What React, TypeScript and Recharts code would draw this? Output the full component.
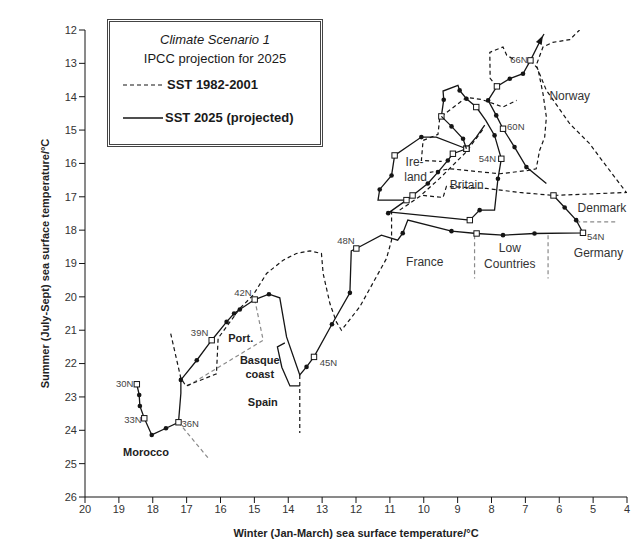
import { ScatterChart, Scatter, XAxis, YAxis, Label } from "recharts";

// point = [winter SST, summer SST, marker]  marker: d = dot, s = open square, a = arrow
type Raw = [number, number, string?];

// ---- SST 2025 (projected), solid ----
const iberiaToDenmark: Raw[] = [
    [18.47, 22.62, "s"], [18.4, 22.94, "d"], [18.38, 23.27, "d"], [18.25, 23.64, "s"],
    [18.03, 24.14, "d"], [17.61, 23.94, "d"], [17.24, 23.76, "s"], [17.17, 22.89],
    [17.17, 22.49, "d"], [16.7, 21.9, "d"], [16.26, 21.3, "s"], [15.82, 20.75, "d"],
    [15.6, 20.5, "d"], [15.43, 20.38, "d"], [14.99, 20.08, "s"], [14.57, 19.92, "d"],
    [14.25, 20.03], [14.05, 21.2], [13.66, 22.34], [13.46, 22.1, "d"], [13.24, 21.8, "s"],
    [12.71, 20.82, "d"], [12.18, 19.88, "d"], [12.14, 18.62], [11.99, 18.55, "s"],
    [11.25, 18.15], [10.77, 18.3], [10.62, 18.09, "d"], [10.47, 17.7], [9.18, 18.03, "d"],
    [8.44, 18.1, "s"], [7.66, 18.15, "d"], [6.73, 18.1, "d"], [5.3, 18.08, "s"],
    [5.5, 17.7, "d"], [5.84, 17.32, "d"], [6.17, 16.96, "s"],
];
const basqueBracket: Raw[] = [[14.1, 21.38], [14.32, 21.5], [14.19, 22.11], [13.95, 22.67], [13.66, 22.67]];
const irelandLoop: Raw[] = [
    [10.51, 17.1], [11.35, 17.1], [11.3, 16.78, "d"], [10.95, 16.36, "d"], [10.86, 15.76, "s"],
    [10.07, 15.21, "d"], [9.63, 15.21], [8.74, 15.56, "s"],
];
const irishSea: Raw[] = [
    [11.05, 17.49, "d"], [10.51, 17.1, "s"], [10.33, 16.96, "s"], [9.88, 16.6, "d"],
    [9.58, 16.26, "d"], [9.29, 15.91, "d"], [9.14, 15.71, "s"], [8.74, 15.56, "s"], [8.45, 15.21],
    [8.2, 14.85],
];
const southBritain: Raw[] = [[11.05, 17.45], [8.64, 17.7]];
const britainEast: Raw[] = [
    [9.48, 14.59, "s"], [9.41, 14.09, "d"], [9.43, 13.83], [8.99, 13.66], [8.94, 13.81, "d"],
    [8.74, 14.06, "d"], [8.45, 14.31, "s"], [8.17, 14.71], [7.91, 15.16, "d"], [7.71, 15.86, "s"],
    [7.81, 16.46, "d"], [7.91, 17.4], [8.35, 17.4, "d"], [8.64, 17.7, "s"],
];
const scotlandWest: Raw[] = [[9.48, 14.59], [9.18, 14.89, "d"], [8.84, 15.26, "d"], [8.74, 15.56]];
const norwayCoast: Raw[] = [
    [6.38, 16.6], [6.97, 16.11, "d"], [7.32, 15.51, "d"], [7.66, 14.96, "s"], [7.86, 14.56, "d"],
    [8.1, 14.11, "d"], [7.84, 13.69, "s"], [7.46, 13.46, "d"], [7.07, 13.31, "d"],
    [6.85, 12.91, "s"], [6.55, 12.3, "a"], [6.45, 12.12],
];

// ---- SST 1982-2001, dashed ----
const iberiaFrance1982: Raw[] = [
    [17.47, 21.1], [17.17, 22.44], [17.02, 22.67], [16.12, 22.31], [16.07, 21.24], [15.43, 20.35],
    [15.04, 19.95], [14.64, 19.3], [14.15, 18.9], [13.76, 18.7], [13.36, 18.62], [13.02, 18.7],
    [12.97, 19.3], [12.77, 20.2], [12.58, 20.75], [12.43, 21.0], [11.89, 20.3], [11.1, 18.85],
    [10.95, 18.3], [10.95, 17.4],
];
const spainInland: Raw[] = [[13.66, 22.34], [13.66, 24.08]];
const britainNorway1982: Raw[] = [
    [10.02, 16.96], [9.43, 17.02], [9.33, 16.69], [8.15, 16.75], [7.17, 16.87], [6.16, 16.96],
    [4.02, 16.87], [4.81, 15.81], [5.1, 15.41], [5.69, 14.81], [6.38, 13.81], [6.68, 13.06],
    [6.48, 12.51], [6.19, 12.37], [5.69, 12.29], [5.4, 12.0],
];
const norwayInner1982: Raw[] = [
    [6.85, 12.91], [6.63, 13.16], [6.48, 13.91], [6.38, 14.61], [6.43, 15.21], [6.58, 15.61],
    [6.68, 16.16], [6.92, 16.21], [7.76, 16.31], [9.23, 16.16], [9.82, 16.27],
];
const norwayWest1982: Raw[] = [[7.84, 13.69], [8.04, 13.45], [8.05, 12.67], [7.66, 12.51], [7.55, 12.76], [7.29, 12.91]];
const scotland1982: Raw[] = [[9.48, 14.59], [8.74, 14.02], [8.3, 14.08], [7.66, 14.31], [7.26, 14.11]];
const ireland1982: Raw[] = [[9.53, 14.65], [9.58, 15.13], [10.02, 15.31], [10.07, 15.91], [9.47, 15.94]];
const irishSea1982: Raw[] = [[10.71, 17.4], [10.12, 16.99], [9.53, 16.45], [8.76, 15.67], [8.23, 14.95]];

// ---- grey boundary marks ----
const portugalBorder: Raw[] = [[14.99, 20.08], [14.74, 21.3], [17.0, 22.69]];
const moroccoBorder: Raw[] = [[17.24, 23.76], [16.35, 24.85]];
const lowCountriesWest: Raw[] = [[8.5, 18.15], [8.5, 19.45]];
const lowCountriesEast: Raw[] = [[6.33, 18.15], [6.33, 19.45]];
const denmarkBorder: Raw[] = [[5.5, 17.75], [4.32, 17.75]];

// ---- text ----
const latitudeLabels: [number, number, string, string][] = [
    [18.57, 22.61, "30N", "end"], [18.33, 23.69, "33N", "end"], [17.15, 23.79, "36N", "start"],
    [16.36, 21.08, "39N", "end"], [15.08, 19.88, "42N", "end"], [13.07, 21.98, "45N", "start"],
    [12.04, 18.3, "48N", "end"], [7.86, 15.86, "54N", "end"], [5.18, 18.2, "54N", "start"],
    [7.54, 14.9, "60N", "start"], [6.93, 12.89, "66N", "end"],
];
const southLabels: [number, number, string][] = [
    [18.2, 24.65, "Morocco"], [14.75, 23.15, "Spain"], [15.4, 21.24, "Port."],
    [14.84, 21.9, "Basque"], [14.84, 22.31, "coast"],
];
const northLabels: [number, number, string][] = [
    [9.97, 18.96, "France"], [7.46, 18.54, "Low"], [7.46, 19.02, "Countries"],
    [4.84, 18.69, "Germany"], [4.74, 17.34, "Denmark"], [5.69, 13.99, "Norway"],
    [10.27, 15.96, "Ire-"], [10.24, 16.41, "land"], [8.73, 16.66, "Britain"],
];
const xTicks = [20, 19, 18, 17, 16, 15, 14, 13, 12, 11, 10, 9, 8, 7, 6, 5, 4];
const yTicks = [12, 13, 14, 15, 16, 17, 18, 19, 20, 21, 22, 23, 24, 25, 26];

const toPts = (raw: Raw[]) => raw.map(([x, y, m]) => ({ x, y, m: m || "" }));

const INK = "#151515";

const Marker = (props: any) => {
    const { cx, cy, payload } = props;
    if (cx == null || cy == null) return <g />;
    if (payload.m === "d") return <circle cx={cx} cy={cy} r={2.3} fill={INK} />;
    if (payload.m === "s")
        return <rect x={cx - 2.7} y={cy - 2.7} width={5.4} height={5.4} fill="#fff" stroke={INK} strokeWidth={1} />;
    if (payload.m === "a")
        return <polygon points="5,0 -4,-3.2 -4,3.2" fill={INK} transform={`translate(${cx},${cy}) rotate(-63)`} />;
    return <g />;
};

const LatText = (props: any) => {
    const { cx, cy, payload } = props;
    return (
        <text x={cx} y={cy} textAnchor={payload.anchor} dominantBaseline="central" fontSize={9.5} fill="#444">
            {payload.text}
        </text>
    );
};

const BoldText = (props: any) => {
    const { cx, cy, payload } = props;
    return (
        <text x={cx} y={cy} textAnchor="middle" dominantBaseline="central" fontSize={11} fontWeight="bold" fill="#222">
            {payload.text}
        </text>
    );
};

const PlainText = (props: any) => {
    const { cx, cy, payload } = props;
    return (
        <text x={cx} y={cy} textAnchor="middle" dominantBaseline="central" fontSize={12} fill="#333">
            {payload.text}
        </text>
    );
};

const solidLine = { stroke: INK, strokeWidth: 1.3 };
const dashLine = { stroke: INK, strokeWidth: 1.2, strokeDasharray: "4 3" };
const greyLine = { stroke: "#8a8a8a", strokeWidth: 1.2, strokeDasharray: "4 3" };

export default function App() {
    const solid = [iberiaToDenmark, basqueBracket, irelandLoop, irishSea, southBritain, britainEast, scotlandWest, norwayCoast];
    const dashed = [iberiaFrance1982, spainInland, britainNorway1982, norwayInner1982, norwayWest1982, scotland1982, ireland1982, irishSea1982];
    const grey = [portugalBorder, moroccoBorder, lowCountriesWest, lowCountriesEast, denmarkBorder];

    return (
        <div style={{ position: "absolute", left: 0, top: 0, width: 635, height: 545, background: "#fff", fontFamily: "'Liberation Sans', Arial, sans-serif" }}>
            <ScatterChart width={635} height={545} margin={{ top: 30, right: 8, bottom: 0, left: 0 }}>
                <XAxis
                    type="number"
                    dataKey="x"
                    domain={[4, 20]}
                    reversed
                    allowDataOverflow
                    ticks={xTicks}
                    interval={0}
                    height={48}
                    tickSize={6}
                    axisLine={{ stroke: INK }}
                    tickLine={{ stroke: INK }}
                    tick={{ fontSize: 11, fill: "#333" }}
                >
                    <Label
                        value="Winter (Jan-March) sea surface temperature/°C"
                        position="insideBottom"
                        offset={8}
                        style={{ fontSize: 11, fontWeight: "bold", fill: "#222" }}
                    />
                </XAxis>
                <YAxis
                    type="number"
                    dataKey="y"
                    domain={[12, 26]}
                    reversed
                    allowDataOverflow
                    ticks={yTicks}
                    interval={0}
                    width={85}
                    tickSize={6}
                    axisLine={{ stroke: INK }}
                    tickLine={{ stroke: INK }}
                    tick={{ fontSize: 11, fill: "#333" }}
                >
                    <Label
                        value="Summer (July-Sept) sea surface temperature/°C"
                        angle={-90}
                        position="insideLeft"
                        offset={45}
                        style={{ fontSize: 11, fontWeight: "bold", fill: "#222", textAnchor: "middle" }}
                    />
                </YAxis>

                {grey.map((d, i) => (
                    <Scatter key={"g" + i} data={toPts(d)} line={greyLine} shape={Marker} isAnimationActive={false} />
                ))}
                {dashed.map((d, i) => (
                    <Scatter key={"d" + i} data={toPts(d)} line={dashLine} shape={Marker} isAnimationActive={false} />
                ))}
                {solid.map((d, i) => (
                    <Scatter key={"s" + i} data={toPts(d)} line={solidLine} shape={Marker} isAnimationActive={false} />
                ))}
                <Scatter
                    data={latitudeLabels.map(([x, y, text, anchor]) => ({ x, y, text, anchor }))}
                    shape={LatText}
                    isAnimationActive={false}
                />
                <Scatter
                    data={southLabels.map(([x, y, text]) => ({ x, y, text }))}
                    shape={BoldText}
                    isAnimationActive={false}
                />
                <Scatter
                    data={northLabels.map(([x, y, text]) => ({ x, y, text }))}
                    shape={PlainText}
                    isAnimationActive={false}
                />
            </ScatterChart>

            {/* legend box */}
            <div
                style={{
                    position: "absolute",
                    left: 107,
                    top: 19,
                    width: 210,
                    height: 122,
                    border: "3px double #444",
                    background: "#fff",
                    color: "#1a1a1a",
                    fontSize: 13,
                }}
            >
                <div style={{ position: "absolute", top: 10, width: "100%", textAlign: "center", fontStyle: "italic" }}>
                    Climate Scenario 1
                </div>
                <div style={{ position: "absolute", top: 29, width: "100%", textAlign: "center" }}>
                    IPCC projection for 2025
                </div>
                <div style={{ position: "absolute", top: 55, left: 13, display: "flex", alignItems: "center", fontWeight: "bold" }}>
                    <svg width={40} height={4} style={{ marginRight: 4 }}>
                        <line x1={0} y1={2} x2={40} y2={2} stroke={INK} strokeWidth={1.2} strokeDasharray="4 3" />
                    </svg>
                    SST 1982-2001
                </div>
                <div style={{ position: "absolute", top: 88, left: 13, display: "flex", alignItems: "center", fontWeight: "bold" }}>
                    <svg width={40} height={4} style={{ marginRight: 2 }}>
                        <line x1={0} y1={2} x2={40} y2={2} stroke={INK} strokeWidth={1.3} />
                    </svg>
                    SST 2025 (projected)
                </div>
            </div>
        </div>
    );
}
